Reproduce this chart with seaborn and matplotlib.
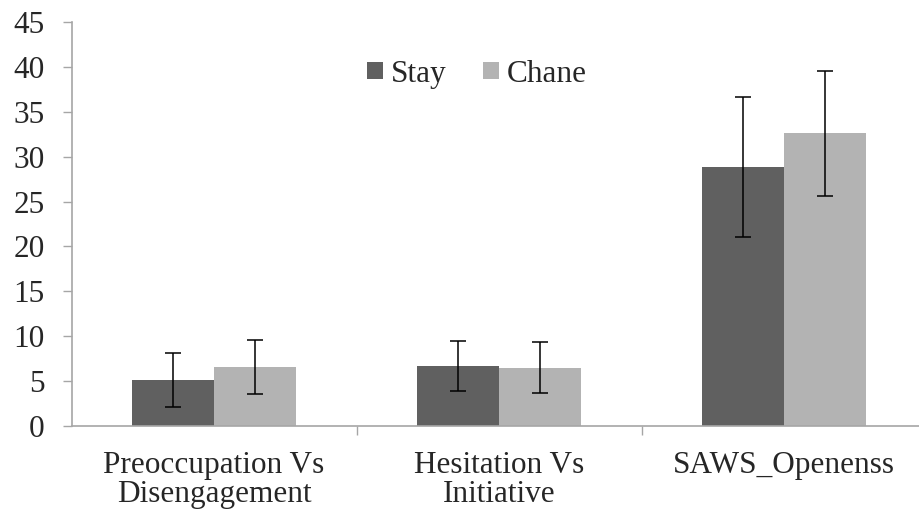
import seaborn as sns
import matplotlib.pyplot as plt
import pandas as pd
from matplotlib.patches import Patch

categories = ["Preoccupation Vs\nDisengagement", "Hesitation Vs\nInitiative", "SAWS_Openenss"]
groups = ["Stay", "Chane"]
stay_means = [5.15, 6.7, 28.9]
stay_errs = [3.0, 2.75, 7.8]
chane_means = [6.6, 6.5, 32.6]
chane_errs = [3.0, 2.85, 6.95]

colors = {"Stay": "#606060", "Chane": "#b3b3b3"}
axis_gray = "#a6a6a6"
fsize = 22.5

df = pd.DataFrame({
	"category": categories * 2,
	"group": ["Stay"] * 3 + ["Chane"] * 3,
	"value": stay_means + chane_means,
	"err": stay_errs + chane_errs,
})

sns.set_style("white")
plt.rcParams['font.family'] = ['Liberation Serif', 'DejaVu Serif']

fig = plt.figure(figsize=(9.19, 5.12), dpi=100)
ax = fig.add_axes([71.5 / 919, 86 / 512, 855 / 919, 404 / 512])

sns.barplot(data=df, x="category", y="value", hue="group", hue_order=groups,
			palette=colors, errorbar=None, width=0.572, ax=ax, legend=False,
			saturation=1, edgecolor="none")

# error bars at the centre of each bar
bars = [p for p in ax.patches if p.get_width() > 0]
for grp, means, errs in [("Stay", stay_means, stay_errs), ("Chane", chane_means, chane_errs)]:
	idx = groups.index(grp)
	for i in range(len(categories)):
		p = bars[idx * len(categories) + i]
		cx = p.get_x() + p.get_width() / 2
		ax.errorbar(cx, means[i], yerr=errs[i], fmt="none", ecolor="black",
					elinewidth=1.1, capsize=6, capthick=1.1, zorder=5)

ax.set_xlim(-0.5, 2.5)
ax.set_ylim(0, 45)
ax.set_yticks(range(0, 46, 5))
ax.set_xticks([0, 1, 2])
ax.set_xticklabels(categories, linespacing=1.02)
ax.set_xticks([0.5, 1.5], minor=True)
ax.tick_params(axis="x", which="major", length=0, labelsize=fsize, pad=18, bottom=True)
ax.tick_params(axis="x", which="minor", length=6.5, width=1, color=axis_gray,
			   direction="out", bottom=True)
ax.tick_params(axis="y", length=6.5, width=1, color=axis_gray, labelsize=fsize, pad=13,
			   direction="out", left=True)
ax.set_xlabel("")
ax.set_ylabel("")

for side in ["top", "right"]:
	ax.spines[side].set_visible(False)
for side in ["left", "bottom"]:
	ax.spines[side].set_color(axis_gray)
	ax.spines[side].set_linewidth(1.2)

handles = [Patch(facecolor=colors[g], edgecolor="none") for g in groups]
ax.legend(handles, groups, loc="center", bbox_to_anchor=(0.474, 0.871), ncol=2,
		  frameon=False, fontsize=fsize, handlelength=0.5, handleheight=0.5,
		  handletextpad=0.25, columnspacing=1.18)

fig.savefig("out.png", dpi=100)
